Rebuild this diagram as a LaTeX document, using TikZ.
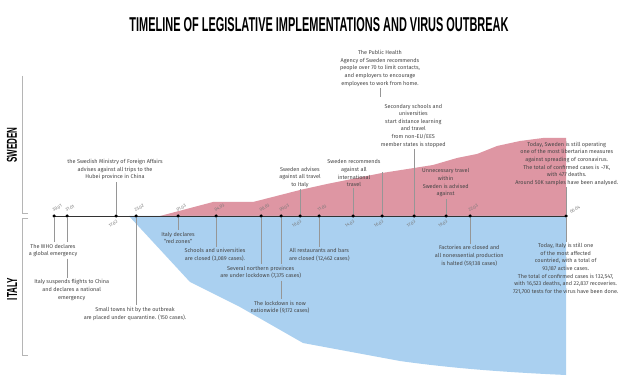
\documentclass[tikz,border=0pt]{standalone}
\usepackage{fontspec}
\setmainfont{Fira Sans}
\newfontfamily\headfont{Liberation Sans}
\usepackage{graphicx}
\usetikzlibrary{backgrounds}

\definecolor{swedenred}{RGB}{222,150,163}
\definecolor{italyblue}{RGB}{170,208,240}
\definecolor{notegray}{RGB}{70,70,70}
\definecolor{tickgray}{RGB}{150,150,150}
\definecolor{dategray}{RGB}{120,120,120}

\tikzset{
  note/.style={align=center, inner sep=1.5pt, text=notegray, font=\fontsize{5.5pt}{7.6pt}\selectfont},
  datelabel/.style={text=dategray, font=\fontsize{4.5pt}{4.5pt}\selectfont, rotate=30, inner sep=0.5pt},
  tickline/.style={draw=tickgray, line width=0.5pt},
  event/.style={circle, fill=black, inner sep=0pt, minimum size=3.5pt},
  bracket/.style={draw=tickgray!70, line width=0.6pt},
  timeline/.style={draw=black!80, line width=0.8pt},
}

\begin{document}
\begin{tikzpicture}[x=1pt, y=-1pt]
\useasboundingbox (0, 0) rectangle (642, 379);

% title and country labels
\node (title) at (319, 25) {\resizebox{379pt}{14pt}{\headfont\bfseries TIMELINE OF LEGISLATIVE IMPLEMENTATIONS AND VIRUS OUTBREAK}};
\node [rotate=90] (swlabel) at (12, 145) {\resizebox{35pt}{10pt}{\headfont\bfseries SWEDEN}};
\node [rotate=90] (itlabel) at (12, 289) {\resizebox{22pt}{10pt}{\headfont\bfseries ITALY}};
\draw [bracket] (22, 76) -- (22, 213) -- (28, 213);
\draw [bracket] (28, 218) -- (22, 218) -- (22, 355) -- (28, 355);

% events on the timeline
\node [event] (d3001) at (54, 216) {};
\node [event] (d3101) at (67, 216) {};
\node [event] (d1702) at (116, 216) {};
\node [event] (d2302) at (136, 216) {};
\node [event] (d0103) at (178, 216) {};
\node [event] (d0403) at (216, 216) {};
\node [event] (d0803) at (261, 216) {};
\node [event] (d0903) at (281, 216) {};
\node [event] (d1003) at (300, 216) {};
\node [event] (d1103) at (319, 216) {};
\node [event] (d1403) at (353, 216) {};
\node [event] (d1603) at (382, 216) {};
\node [event] (d1703) at (414, 216) {};
\node [event] (d1903) at (446, 216) {};
\node [event] (d2203) at (470, 216) {};
\node [event] (d0604) at (566, 216) {};

% the two areas, under the timeline
\begin{scope}[on background layer]
\fill [white] (0, 0) rectangle (642, 379);
\fill [swedenred] (160, 216) -- (213, 202) -- (253, 202) -- (300, 190) -- (327, 184) -- (382, 173)
  -- (414, 168) -- (433, 165) -- (457, 158) -- (477, 154) -- (497, 146) -- (520, 141)
  -- (543, 138) -- (566, 138) -- (566, 216) -- cycle;
\fill [italyblue] (129, 216) -- (566, 216) -- (566, 375) .. controls (500, 372) and (450, 368) .. (400, 361)
  -- (303, 343) -- (240, 307) -- (190, 282) -- cycle;
\draw [timeline] (d3001.center) -- (d0604.center);
\end{scope}

% dates
\node [datelabel, anchor=south west, xshift=1pt, yshift=3pt] at (d3001) {30.01};
\node [datelabel, anchor=south west, xshift=1pt, yshift=3pt] at (d3101) {31.01};
\node [datelabel, anchor=north east, xshift=-1pt, yshift=-3pt] at (d1702) {17.02};
\node [datelabel, anchor=south west, xshift=1pt, yshift=3pt] at (d2302) {23.02};
\node [datelabel, anchor=south west, xshift=1pt, yshift=3pt] at (d0103) {01.03};
\node [datelabel, anchor=south west, xshift=1pt, yshift=3pt] at (d0403) {04.03};
\node [datelabel, anchor=south west, xshift=1pt, yshift=3pt] at (d0803) {08.03};
\node [datelabel, anchor=south west, xshift=1pt, yshift=3pt] at (d0903) {09.03};
\node [datelabel, anchor=north east, xshift=-1pt, yshift=-3pt] at (d1003) {10.03};
\node [datelabel, anchor=south west, xshift=1pt, yshift=3pt] at (d1103) {11.03};
\node [datelabel, anchor=north east, xshift=-1pt, yshift=-3pt] at (d1403) {14.03};
\node [datelabel, anchor=north east, xshift=-1pt, yshift=-3pt] at (d1603) {16.03};
\node [datelabel, anchor=north east, xshift=-1pt, yshift=-3pt] at (d1703) {17.03};
\node [datelabel, anchor=north east, xshift=-1pt, yshift=-3pt] at (d1903) {19.03};
\node [datelabel, anchor=south west, xshift=1pt, yshift=3pt] at (d2203) {22.03};
\node [datelabel, anchor=south west, xshift=5pt, yshift=-1pt] at (d0604) {06.04};

% Sweden
\node [note] (hubei) at (115, 169.5) {the Swedish Ministry of Foreign Affairs\\advises against all trips to the\\Hubei province in China};
\node [note] (travelitaly) at (300, 177.1) {Sweden advises\\against all travel\\to Italy};
\node [note] (intltravel) at (354, 173.3) {Sweden recommends\\against all\\international\\travel};
\node [note] (health) at (380, 68.3) {The Public Health\\Agency of Sweden recommends\\people over 70 to limit contacts,\\and employers to encourage\\employees to work from home.};
\node [note] (secondary) at (413.3, 125.7) {Secondary schools and\\universities\\start distance learning\\and travel\\from non-EU/EES\\member states is stopped};
\node [note] (domestic) at (445.7, 182.8) {Unnecessary travel\\within\\Sweden is advised\\against};
\node [note] (swedentoday) at (566.7, 163.8) {Today, Sweden is still operating\\one of the most libertarian measures\\against spreading of coronavirus.\\The total of confirmed cases is \textasciitilde7K,\\with 477 deaths.\\Around 50K samples have been analysed.};
\coordinate (ticktop) at (382, 172);
\coordinate (healthtick) at (380, 97);

% Italy
\node [note] (who) at (53, 250.5) {The WHO declares\\a global emergency};
\node [note] (suspend) at (71.7, 290) {Italy suspends flights to China\\and declares a national\\emergency};
\node [note] (towns) at (135, 313.7) {Small towns hit by the outbreak\\are placed under quarantine. (150 cases).};
\node [note] (redzones) at (178, 238) {Italy declares\\``red zones''};
\node [note] (schools) at (215, 255) {Schools and universities\\are closed (3,089 cases).};
\node [note] (north) at (260.7, 272.5) {Several northern provinces\\are under lockdown (7,375 cases)};
\node [note] (lockdown) at (280, 307.5) {The lockdown is now\\nationwide (9,172 cases)};
\node [note] (bars) at (319.3, 255) {All restaurants and bars\\are closed (12,462 cases)};
\node [note] (factories) at (469.3, 255.8) {Factories are closed and\\all nonessential production\\is halted (59,138 cases)};
\node [note] (italytoday) at (565.7, 268.9) {Today, Italy is still one\\of the most affected\\countried, with a total of\\93,187 active cases.\\The total of confirmed cases is 132,547,\\with 16,523 deaths, and 22,837 recoveries.\\721,700 tests for the virus have been done.};

% connectors
\draw [tickline] (d1702) -- (d1702 |- hubei.south);
\draw [tickline] (d1003) -- (d1003 |- travelitaly.south);
\draw [tickline] (d1403) -- (d1403 |- intltravel.south);
\draw [tickline] (d1603) -- (ticktop);
\draw [tickline] (health.south) -- (healthtick);
\draw [tickline] (d1703) -- (d1703 |- secondary.south);
\draw [tickline] (d1903) -- (d1903 |- domestic.south);
\draw [tickline] (d0604) -- (d0604 |- swedentoday.south);
\draw [tickline] (d3001) -- (d3001 |- who.north);
\draw [tickline] (d3101) -- (d3101 |- who.north);
\draw [tickline] (d3101 |- who.south) -- (d3101 |- suspend.north);
\draw [tickline] (d2302) -- (d2302 |- towns.north);
\draw [tickline] (d0103) -- (d0103 |- redzones.north);
\draw [tickline] (d0403) -- (d0403 |- schools.north);
\draw [tickline] (d0803) -- (d0803 |- north.north);
\draw [tickline] (d0903) -- (d0903 |- north.north);
\draw [tickline] (d0903 |- north.south) -- (d0903 |- lockdown.north);
\draw [tickline] (d1103) -- (d1103 |- bars.north);
\draw [tickline] (d2203) -- (d2203 |- factories.north);
\draw [tickline] (d0604) -- (d0604 |- italytoday.north);
\end{tikzpicture}
\end{document}
